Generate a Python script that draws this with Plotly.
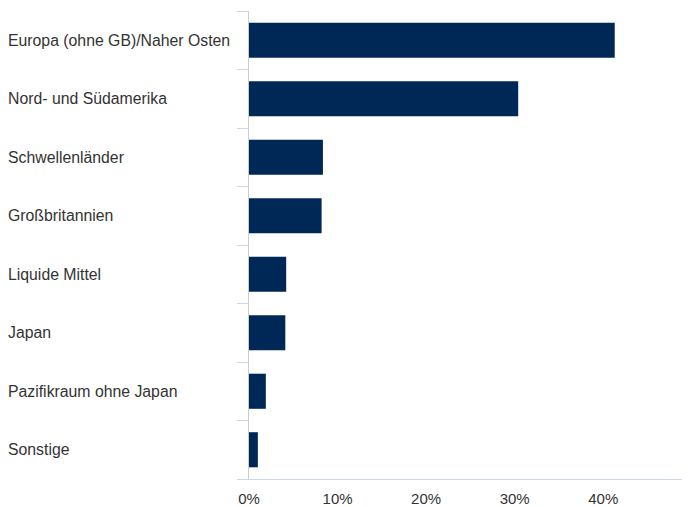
import plotly.graph_objects as go

categories = ["Europa (ohne GB)/Naher Osten", "Nord- und Südamerika", "Schwellenländer",
              "Großbritannien", "Liquide Mittel", "Japan", "Pazifikraum ohne Japan", "Sonstige"]
values = [41.3, 30.4, 8.35, 8.2, 4.2, 4.1, 1.9, 1.0]
x_ticks = [0, 10, 20, 30, 40]
x_tick_labels = ["0%", "10%", "20%", "30%", "40%"]

# page has an 8px body margin, so the figure is drawn at (8, 8)
W, H = 682, 499
ml, mr, mt, mb = 241, 0, 3, 28
pw = W - ml - mr

fig = go.Figure(go.Bar(
    x=values, y=categories, orientation="h",
    marker=dict(color="#002856", line=dict(width=0)),
    hoverinfo="x+y",
))

annotations = [
    dict(x=-(ml + 2) / pw, y=c, xref="paper", yref="y", text=c, showarrow=False,
         xanchor="left", yanchor="middle",
         font=dict(family="Liberation Sans, Arial, sans-serif", size=15.8, color="#333333"))
    for c in categories
]

fig.update_layout(
    width=W, height=H,
    margin=dict(l=ml, r=mr, t=mt, b=mb, pad=0),
    plot_bgcolor="white", paper_bgcolor="white",
    showlegend=False, bargap=0.4,
    font=dict(family="Liberation Sans, Arial, sans-serif", size=15, color="#333333"),
    annotations=annotations,
    xaxis=dict(range=[0, 49.8], tickvals=x_ticks, ticktext=x_tick_labels,
               showgrid=False, zeroline=False, showline=True, linecolor="#ccd6eb",
               linewidth=1, ticks="outside", ticklen=6, tickcolor="rgba(0,0,0,0)",
               tickfont=dict(size=15, color="#333333"), automargin=False),
    yaxis=dict(categoryorder="array", categoryarray=categories[::-1],
               showticklabels=False, showgrid=False, zeroline=False,
               showline=True, linecolor="#cccccc", linewidth=1,
               ticks="outside", ticklen=11, tickcolor="#ccd6eb", tickson="boundaries",
               range=[-0.5, 7.5], automargin=False),
)

fig.write_html("out.html")
